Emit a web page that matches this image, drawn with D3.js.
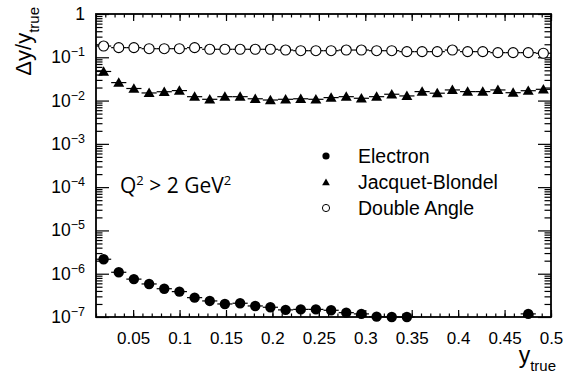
<!DOCTYPE html>
<html>
<head>
<meta charset="utf-8">
<script src="https://cdn.jsdelivr.net/npm/d3@7"></script>
<style>
  body { margin: 0; background: #fff; }
  svg { display: block; }
</style>
</head>
<body>
<svg class="chart" width="569" height="374"></svg>
<script>
// bin centres of y_true (30 bins from 0.01 to 0.5)
const binCenters = [0.0182, 0.0345, 0.0508, 0.0672, 0.0835, 0.0998, 0.1162, 0.1325, 0.1488, 0.1652,
                    0.1815, 0.1978, 0.2142, 0.2305, 0.2468, 0.2632, 0.2795, 0.2958, 0.3122, 0.3285,
                    0.3448, 0.3612, 0.3775, 0.3938, 0.4102, 0.4265, 0.4428, 0.4592, 0.4755, 0.4918];
const binHalfWidth = 0.00817;

const electron = [2.16e-6, 1.08e-6, 7.5e-7, 5.8e-7, 4.5e-7, 3.86e-7, 2.8e-7, 2.35e-7, 2.0e-7, 2.08e-7,
                  1.8e-7, 1.68e-7, 1.46e-7, 1.5e-7, 1.5e-7, 1.43e-7, 1.26e-7, 1.18e-7, 1.02e-7, 1.0e-7,
                  1.0e-7, null, null, null, null, null, null, null, 1.18e-7, null];
const jacquetBlondel = [0.047, 0.026, 0.019, 0.015, 0.016, 0.017, 0.0123, 0.0107, 0.0123, 0.0123,
                        0.011, 0.0103, 0.0107, 0.011, 0.0107, 0.0117, 0.0123, 0.0113, 0.0123, 0.014,
                        0.0128, 0.0161, 0.0148, 0.0176, 0.0161, 0.0161, 0.0176, 0.0152, 0.0169, 0.0182];
const doubleAngle = [0.182, 0.167, 0.167, 0.158, 0.158, 0.158, 0.167, 0.153, 0.153, 0.153,
                     0.153, 0.153, 0.147, 0.142, 0.142, 0.142, 0.147, 0.147, 0.142, 0.142,
                     0.135, 0.135, 0.135, 0.147, 0.135, 0.135, 0.128, 0.128, 0.128, 0.124];

const xTicks = [0.05, 0.1, 0.15, 0.2, 0.25, 0.3, 0.35, 0.4, 0.45, 0.5];
const xMinorTicks = d3.range(1, 51).map(d => d / 100);
const yDecades = [-7, -6, -5, -4, -3, -2, -1, 0];

const legendNames = ["Electron", "Jacquet-Blondel", "Double Angle"];

var margin = {top: 14, right: 18, bottom: 57, left: 96},
    width = 569 - margin.left - margin.right,
    height = 374 - margin.top - margin.bottom;

const font = "'Liberation Sans', Arial, Helvetica, sans-serif";

var svg = d3.select("svg.chart")
            .append("g")
            .attr("transform", "translate(" + margin.left + "," + margin.top + ")")
            .style("font-family", font);

const x = d3.scaleLinear().domain([0.01, 0.5]).range([0, width]);
const y = d3.scaleLog().domain([1e-7, 1]).range([height, 0]);

// minor y ticks 2..9 inside each decade
var yMinor = [];
yDecades.slice(0, -1).forEach(e => {
    for (let m = 2; m <= 9; m++) yMinor.push(m * Math.pow(10, e));
});

function styleAxis(g) {
    g.select(".domain").remove();
    g.selectAll("line").attr("stroke", "black").attr("stroke-width", 1.2);
}

// x axis bottom: majors with labels, minors without
svg.append("g")
    .attr("transform", "translate(0," + height + ")")
    .call(d3.axisBottom(x).tickValues(xTicks).tickSize(-7).tickPadding(15)
          .tickFormat(d => d3.format("")(d)))
    .call(styleAxis)
    .selectAll("text")
    .style("font-size", "17px")
    .style("font-family", font)
    .attr("fill", "black");
svg.append("g")
    .attr("transform", "translate(0," + height + ")")
    .call(d3.axisBottom(x).tickValues(xMinorTicks).tickSize(-3.5).tickFormat(""))
    .call(styleAxis);
// x axis top
svg.append("g")
    .call(d3.axisTop(x).tickValues(xTicks).tickSize(-7).tickFormat(""))
    .call(styleAxis);
svg.append("g")
    .call(d3.axisTop(x).tickValues(xMinorTicks).tickSize(-3.5).tickFormat(""))
    .call(styleAxis);

// y axis left
var yMajorVals = yDecades.map(e => Math.pow(10, e));
svg.append("g")
    .call(d3.axisLeft(y).tickValues(yMajorVals).tickSize(-13).tickFormat(""))
    .call(styleAxis);
svg.append("g")
    .call(d3.axisLeft(y).tickValues(yMinor).tickSize(-6.5).tickFormat(""))
    .call(styleAxis);
// y axis right
svg.append("g")
    .attr("transform", "translate(" + width + ",0)")
    .call(d3.axisRight(y).tickValues(yMajorVals).tickSize(-13).tickFormat(""))
    .call(styleAxis);
svg.append("g")
    .attr("transform", "translate(" + width + ",0)")
    .call(d3.axisRight(y).tickValues(yMinor).tickSize(-6.5).tickFormat(""))
    .call(styleAxis);

// y tick labels with superscripts
yDecades.forEach(e => {
    var t = svg.append("text")
        .attr("x", -11)
        .attr("y", y(Math.pow(10, e)) + 6)
        .attr("text-anchor", "end")
        .style("font-size", "17.5px");
    if (e === 0) {
        t.text("1");
    } else {
        t.append("tspan").text("10");
        t.append("tspan").attr("dy", -7).style("font-size", "12.5px").text("\u2212" + (-e));
    }
});

// frame
svg.append("rect")
    .attr("x", 0).attr("y", 0)
    .attr("width", width).attr("height", height)
    .attr("fill", "none")
    .attr("stroke", "black")
    .attr("stroke-width", 1.8);

// series
function drawSeries(values, kind) {
    var pts = binCenters.map((c, i) => ({c: c, v: values[i]})).filter(d => d.v != null);
    var g = svg.append("g");
    g.selectAll("line.bar")
        .data(pts)
        .enter().append("line")
        .attr("x1", d => x(d.c - binHalfWidth))
        .attr("x2", d => x(d.c + binHalfWidth))
        .attr("y1", d => y(d.v))
        .attr("y2", d => y(d.v))
        .attr("stroke", "black")
        .attr("stroke-width", 1.2);
    if (kind === "triangle") {
        g.selectAll("path.m")
            .data(pts)
            .enter().append("path")
            .attr("d", d3.symbol(d3.symbolTriangle, 52))
            .attr("transform", d => "translate(" + x(d.c) + "," + (y(d.v) + 1) + ")")
            .attr("fill", "black");
    } else {
        g.selectAll("circle.m")
            .data(pts)
            .enter().append("circle")
            .attr("cx", d => x(d.c))
            .attr("cy", d => y(d.v))
            .attr("r", kind === "open" ? 5 : 5.2)
            .attr("fill", kind === "open" ? "white" : "black")
            .attr("stroke", "black")
            .attr("stroke-width", kind === "open" ? 1.1 : 0);
    }
}
drawSeries(doubleAngle, "open");
drawSeries(jacquetBlondel, "triangle");
drawSeries(electron, "filled");

// legend
var legendY = [156, 182, 208];
legendNames.forEach((name, i) => {
    var ly = legendY[i] - margin.top;
    var lx = 326 - margin.left;
    if (i === 1) {
        svg.append("path")
            .attr("d", d3.symbol(d3.symbolTriangle, 26))
            .attr("transform", "translate(" + lx + "," + (ly + 1) + ")")
            .attr("fill", "black");
    } else {
        svg.append("circle")
            .attr("cx", lx).attr("cy", ly).attr("r", 3.6)
            .attr("fill", i === 0 ? "black" : "white")
            .attr("stroke", "black")
            .attr("stroke-width", i === 0 ? 0 : 1);
    }
    svg.append("text")
        .attr("x", 358 - margin.left)
        .attr("y", ly + 7)
        .style("font-size", "19.5px")
        .text(name);
});

// Q^2 annotation
var q = svg.append("text")
    .attr("x", 120 - margin.left)
    .attr("y", 193 - margin.top)
    .style("font-family", "'Open Sans', sans-serif")
    .style("font-size", "21px");
q.append("tspan").text("Q");
q.append("tspan").attr("dy", -8).style("font-size", "13px").text("2");
q.append("tspan").attr("dy", 8).text(" > 2 GeV");
q.append("tspan").attr("dy", -8).style("font-size", "13px").text("2");

// axis titles
var xt = svg.append("text")
    .attr("x", 556 - margin.left)
    .attr("y", 363 - margin.top)
    .attr("text-anchor", "end")
    .style("font-size", "23px");
xt.append("tspan").text("y");
xt.append("tspan").attr("dy", 8).style("font-size", "15px").text("true");

var yt = svg.append("text")
    .attr("transform", "translate(" + (31 - margin.left) + "," + (7 - margin.top) + ") rotate(-90)")
    .attr("text-anchor", "end")
    .style("font-size", "22px");
yt.append("tspan").text("\u0394y/y");
yt.append("tspan").attr("dy", 8).style("font-size", "15px").text("true");
</script>
</body>
</html>
